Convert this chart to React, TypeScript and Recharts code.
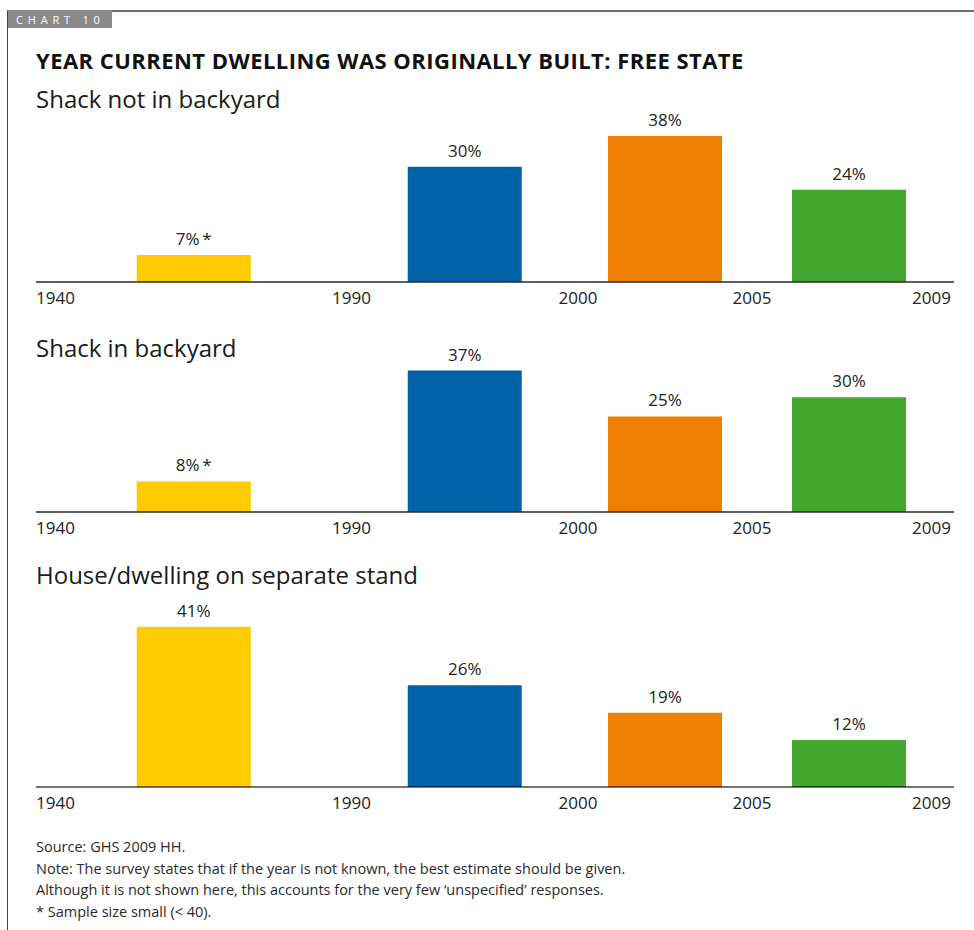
import React from "react";
import { BarChart, Bar, XAxis, YAxis, LabelList, Cell } from "recharts";

// year boundaries shown under each axis
const years = ["1940", "1990", "2000", "2005", "2009"];
const periods = ["1940-1989", "1990-1999", "2000-2004", "2005-2009"];

// percentage of dwellings per period
const shackNotInBackyard = [7, 30, 38, 24];
const shackInBackyard = [8, 37, 25, 30];
const houseOnSeparateStand = [41, 26, 19, 12];

// small sample flags (< 40)
const smallNotInBackyard = [true, false, false, false];
const smallInBackyard = [true, false, false, false];
const smallHouse = [false, false, false, false];

const panelTitles = ["Shack not in backyard", "Shack in backyard", "House/dwelling on separate stand"];

const footnotes = [
  "Source: GHS 2009 HH.",
  "Note: The survey states that if the year is not known, the best estimate should be given.",
  "Although it is not shown here, this accounts for the very few \u2018unspecified\u2019 responses.",
  "* Sample size small (< 40).",
];

// ---- layout / style ----
const FONT = '"Open Sans", "Noto Sans", sans-serif';
const colors = ["#FECB00", "#0063A9", "#EF7F00", "#43A62F"];
// where the period boundaries sit along the axis (0-100 axis units)
const edgePos = [0, 34.37, 59.04, 78.0, 99.13];
const CHART_W = 974;
const M_LEFT = 36;
const M_RIGHT = 20;
const M_TOP = 14;
const X_H = 30;
const Y_MAX = 45;

const panelLayout = [
  { axisY: 282, plotH: 173, subTop: 86.5, axisColor: "#2a2a2a", axisW: 1.4 },
  { axisY: 512, plotH: 172, subTop: 335.5, axisColor: "#2a2a2a", axisW: 1.4 },
  { axisY: 787, plotH: 176, subTop: 562.5, axisColor: "rgba(0,0,0,0.55)", axisW: 2 },
];

function buildRows(values: number[], small: boolean[]) {
  return periods.map((p, i) => ({
    period: p,
    pos: (edgePos[i] + edgePos[i + 1]) / 2,
    value: values[i],
    label: `${values[i]}%${small[i] ? "\u2009*" : ""}`,
    color: colors[i],
  }));
}

const panelRows = [
  buildRows(shackNotInBackyard, smallNotInBackyard),
  buildRows(shackInBackyard, smallInBackyard),
  buildRows(houseOnSeparateStand, smallHouse),
];

function YearTick(props: any) {
  const { x, y, payload } = props;
  const idx = edgePos.indexOf(payload.value);
  const last = edgePos.length - 1;
  const anchor = idx === 0 ? "start" : idx === last ? "end" : "middle";
  return (
    <text
      x={x}
      y={y}
      dx={idx === last ? 5 : 0}
      dy={14}
      textAnchor={anchor}
      fill="#222"
      fontSize={17}
      fontFamily={FONT}
    >
      {years[idx]}
    </text>
  );
}

function Panel({ index }: { index: number }) {
  const lay = panelLayout[index];
  const rows = panelRows[index];
  const height = M_TOP + lay.plotH + X_H;
  const top = lay.axisY - lay.plotH - M_TOP;
  return (
    <>
      <div
        style={{
          position: "absolute",
          left: 36,
          top: lay.subTop,
          fontSize: 24,
          lineHeight: 1,
          color: "#1a1a1a",
          whiteSpace: "nowrap",
        }}
      >
        {panelTitles[index]}
      </div>
      <div style={{ position: "absolute", left: 0, top }}>
        <BarChart
          width={CHART_W}
          height={height}
          data={rows}
          margin={{ top: M_TOP, right: M_RIGHT, bottom: 0, left: M_LEFT }}
        >
          <YAxis hide domain={[0, Y_MAX]} />
          <Bar dataKey="value" barSize={114} isAnimationActive={false}>
            {rows.map((r) => (
              <Cell key={r.period} fill={r.color} />
            ))}
            <LabelList
              dataKey="label"
              position="top"
              offset={10}
              fill="#222"
              fontSize={17}
              fontFamily={FONT}
            />
          </Bar>
          <XAxis
            type="number"
            dataKey="pos"
            domain={[0, 100]}
            ticks={edgePos}
            interval={0}
            height={X_H}
            tickLine={false}
            axisLine={{ stroke: lay.axisColor, strokeWidth: lay.axisW }}
            tick={<YearTick />}
          />
        </BarChart>
      </div>
    </>
  );
}

export default function App() {
  return (
    <div
      style={{
        position: "absolute",
        left: 0,
        top: 0,
        width: 974,
        height: 930,
        background: "#fff",
        fontFamily: FONT,
        overflow: "hidden",
      }}
    >
      {/* frame */}
      <div
        style={{
          position: "absolute",
          left: 7,
          top: 10,
          width: 980,
          height: 930,
          borderTop: "2px solid #6e6e6e",
          borderLeft: "1.5px solid #444",
        }}
      />
      <div
        style={{
          position: "absolute",
          left: 8,
          top: 10,
          width: 104,
          height: 18,
          background: "#8a8a8a",
          color: "#fff",
          fontSize: 11,
          lineHeight: "19px",
          letterSpacing: 4.8,
          paddingLeft: 8,
          boxSizing: "border-box",
          whiteSpace: "nowrap",
        }}
      >
        CHART 10
      </div>
      <div
        style={{
          position: "absolute",
          left: 36,
          top: 49,
          fontSize: 22,
          lineHeight: 1,
          fontWeight: 700,
          letterSpacing: 0.45,
          color: "#111",
          whiteSpace: "nowrap",
        }}
      >
        YEAR CURRENT DWELLING WAS ORIGINALLY BUILT: FREE STATE
      </div>

      {panelTitles.map((_, i) => (
        <Panel key={i} index={i} />
      ))}

      <div
        style={{
          position: "absolute",
          left: 36,
          top: 836,
          fontSize: 14.5,
          lineHeight: "21.7px",
          color: "#2a2a2a",
          whiteSpace: "nowrap",
        }}
      >
        {footnotes.map((t) => (
          <div key={t}>{t}</div>
        ))}
      </div>
    </div>
  );
}
